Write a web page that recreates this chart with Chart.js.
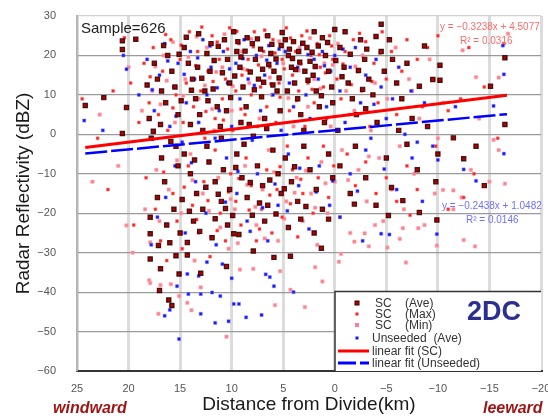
<!DOCTYPE html>
<html><head><meta charset="utf-8">
<script src="https://cdn.jsdelivr.net/npm/chart.js@4"></script>
<style>html,body{margin:0;padding:0;background:#fff;}#wrap{width:548px;height:418px;}</style>
</head><body><div id="wrap"><canvas id="c" width="548" height="418"></canvas></div>
<script>
// ---- data (x = distance km, y = dBZ) ----
const scAve = [
[24.2,7.3],[22.4,9.3],[20.6,23.7],[19.3,24.1],[20.6,21.5],[20.2,6.8],[20.6,0.2],
[17.5,18],[17.2,14],[16.8,11],[16.4,8],[18,4],[17.8,-1],[16.2,20],[15.8,16],[15.5,12],[15.2,5],[16.9,2.5],[15.4,-3],[17.6,0.8],[18.2,12.5],
[14.6,22],[14.2,18],[13.8,14],[13.5,9],[13.1,5],[12.8,1],[12.4,20.5],[12.1,16],[11.8,11.5],[11.4,7],[11.1,2],[10.7,24],[10.4,19],[10.2,13],[14.9,8.5],[13.3,17],[12,23],[11,-1],[10.5,6],[14,2.5],[12.6,11],
[9.8,26],[9.5,21],[9.2,17],[8.9,12],[8.6,7],[8.3,2.5],[8,23],[7.7,19],[7.4,14],[7.1,9.5],[6.8,4],[6.5,25],[6.2,20.5],[5.9,16],[5.6,11],[5.3,6],[9.1,3],[7.9,-0.5],[6.6,1.5],[5.2,22.5],[8.5,24.5],[7,16.5],[6,12.5],
[4.8,24],[4.5,20],[4.2,17],[3.9,13],[3.6,9],[3.3,5],[3,1],[2.7,22],[2.4,18.5],[2.1,15],[1.8,11],[1.5,7],[1.2,24.5],[0.9,20],[0.6,16],[0.3,12],[4,23.5],[3.5,21],[2,26],[1,3],[0.2,8],[4.6,11],[2.9,16],[0,26.6],
[-0.5,22],[-0.9,17],[-1.3,13],[-1.7,9],[-2.1,5],[-2.5,24],[-2.9,19],[-3.3,14],[-3.7,10],[-4.1,3],[-4.5,21],[-4.8,16],[-1,26],[-3,6.5],[-0.3,1],[-4.5,27.9],
[-5.3,24],[-5.6,19],[-6,13],[-6.5,9],[-7,18],[-7.5,4],[-8.2,12.2],[-8.7,22.4],[-9,2],[-9.5,13.9],[-10.2,17.5],[-10.2,13.7],[-6.2,1],
[-11.5,-0.9],[-13.7,-3],[-12.5,-6.2],[-15.1,12.2],[-16.5,19.4],[-16.5,2.5],[-14.5,-13],
[16.6,22.5],[15.1,20.3],[14.4,24.6],[13.9,11.2],[13.2,25.5],[12.9,14.2],[12.3,8.5],[11.7,18.7],[11.3,22.3],[10.9,15.6],[10.1,9.3],[9.7,14.8],[9.4,23.5],[9.1,19.6],[8.7,21.1],[8.2,15.8],[7.8,11.3],[7.5,24.2],[7.2,21.6],[6.9,13.2],[6.4,17.7],[6.1,22.8],[5.7,19.1],[5.4,14.3],[5.1,25.8],[4.4,21.6],[4.1,19.2],[3.8,16.4],[3.4,18.3],[3.1,23.1],[2.6,13.7],[2.2,20.8],[1.9,17.2],[1.6,22.4],[1.3,9.8],[0.7,23.3],[-0.1,18.7],[-0.7,14.6],[-1.5,20.3],[-2.3,16.2],[-3.1,21.6],[-4,24.8],[-2.7,11.4],
[17.9,-21],[17.9,-25.2],[17.1,-28.2],[17.9,-31.6],[16.9,-34.1],[17,-39.6],[15.8,-43.4],[16.1,-42],[15.2,-8],[16.5,-12],[17.2,-16],[15.6,-19],[16.8,-6],[15,-25],[16.3,-23],
[14.3,-27.4],[13,-35.2],[15.1,-35.4],[14.3,-30.6],[11.6,-21.4],[14.6,-5],[14,-10],[13.4,-15],[12.8,-19],[12.2,-7],[11.6,-12],[11,-17],[10.4,-23],[13.7,-22],[12.4,-3],[10.8,-9],[10.2,-14],[14.8,-16.5],
[9.8,-25.2],[9.3,-25.4],[10.5,-33.5],[7.9,-29.6],[5.9,-31.2],[4.3,-30.9],[4.5,-23.6],[9.5,-5],[9,-11],[8.5,-16],[8,-20.5],[7.5,-8],[7,-13],[6.5,-18],[6,-4],[5.5,-10],[5.2,-15],[8.8,-2.5],[6.8,-22],
[4.8,-6],[4.2,-12],[3.6,-17],[3,-3],[2.4,-9],[1.8,-14],[1.2,-19],[0.6,-5],[0.2,-11],[3.3,-21.5],[2,-25],[1.3,-28.9],[0.6,-21.5],
[16,-27.5],[15.4,-30.8],[14.1,-19.5],[13.1,-24.6],[12.5,-13.4],[11.9,-26.2],[11.3,-15.2],[10.6,-18.8],[9.9,-20.6],[9.6,-8.4],[8.2,-12.2],[7.3,-17.4],[6.3,-11.6],[5.7,-20.2],[4.9,-13.8],[3.9,-8.2],[2.8,-18.3],[13.6,-6.5],[15.9,-1.8],
[-0.5,-8],[-1.5,-15],[-2,-3],[-3,-11],[-4,-18],[-5,-6],[-5.5,-13.5],[-7,-2.5],[-8,-9],[-9.8,-12],[-10,-5],[-1.9,-17.7],[-5.2,-20.6],[-8.2,-19.8],[-6.6,-16.8],[-9.9,-21.7]
];
const scMax = [
[24.5,9],[23,-1],[21.5,11],[20.4,24.5],[19.8,13],[19,3],[18.5,18],[18,8],[17.6,22],[17.1,5],[16.7,16],[16.2,1],[15.9,24],[15.4,10],[15,19],[14.7,3],[14.4,13],[14.1,26],[13.7,7],[13.3,21],[13,11],[12.6,-1],[12.3,16],[11.9,25],[11.6,4],[11.2,19],[10.9,9],[10.6,14],[10.2,27],[9.9,1],
[9.6,11],[9.3,23],[9,15],[8.7,5],[8.4,19],[8.1,10],[7.8,26],[7.5,2],[7.2,12],[6.9,21],[6.6,7],[6.3,17],[6,24],[5.7,3],[5.4,13],[5.1,19],[4.7,27],[4.4,6],[4.1,15],[3.8,21],[3.5,11],[3.2,25],[2.9,2],[2.6,13],[2.3,20],[2,8],[1.7,23],[1.4,17],[1.1,12],[0.8,4],[0.5,25],[0.2,19],
[-0.2,14],[-0.6,9],[-1,21],[-1.4,5],[-1.8,24],[-2.2,16],[-2.6,11],[-3,23.5],[-3.4,2],[-3.8,18],[-4.2,8],[-4.6,26],[-5,14],[-5.5,21],[-6,5],[-6.5,16],[-7,24],[-7.5,11],[-8,19],[-8.5,7],[-9,22],[-9.6,14],[-10,25],[-11,6],[-12.2,9],[-13,22],[-14.5,12],[-15.8,-1],[-16.4,23],
[17.9,14.6],[16.4,25.3],[15.7,6.7],[14.9,22.6],[13.5,17.4],[12.9,27.2],[12.5,5.8],[11.8,13.4],[11.4,23.4],[10.8,3.6],[10.4,21.6],[9.5,26.1],[9.1,6.4],[8.5,16.3],[7.9,22.2],[7.4,17.6],[6.8,26.4],[6.2,12.8],[5.8,20.6],[5.3,9.4],[4.9,16.6],[4.3,24.4],[3.7,8.6],[3.3,17.8],[2.7,26.2],[2.2,11.4],[1.5,20.2],[0.9,15.6],[0.3,22.4],[-0.8,17.8],[-1.6,12.6],[-2.4,25.6],[-3.6,13.4],[-4.4,20.6],
[22,-14],[19.5,-23],[18.3,-11],[17.4,-19],[16.9,-27],[16.3,-32],[15.7,-15],[15.3,-22],[14.8,-29],[14.2,-8],[13.8,-18],[13.2,-25],[12.7,-12],[12.1,-31],[11.6,-4],[11.1,-20],[10.6,-27],[10.1,-10],[9.6,-17],[9.1,-23],[8.6,-6],[8.1,-13],[7.6,-27],[7.1,-19],[6.6,-9],[6.1,-25],[5.6,-14],[5.1,-21],
[16.6,-9.6],[14.6,-13.4],[13.4,-21.6],[12.3,-16.8],[11.4,-24.4],[10.3,-14.6],[9.3,-11.2],[8.3,-19.2],[7.3,-24],[6.3,-15.4],[5.3,-8.2],[4.3,-17.6],[3.3,-11.4],
[4.6,-3],[4.1,-9],[3.6,-26],[3.1,-15],[2.6,-6],[2.1,-20],[1.6,-11],[1.1,-3],[0.6,-16],[0.1,-8],[-0.5,-21],[-1.2,-5],[-2,-13],[-3,-7],[-4,-15],[-5,-11],[-6,-17],[-7,-8],[-8,-14],[-9.8,-3],[-11,-19],[-12.5,-16],[-13.5,-10],[-7.3,-20.5]
];
const scMin = [
[23.5,-12],[22.8,5],[21,-8],[20,17],[19.6,-30],[18.7,6],[18.4,-19],[18,-37],[17.7,11],[17.3,-9],[17,-22],[16.6,20],[16.1,-14],[15.9,-38],[15.5,3],[15.1,-41],[14.9,-20],[14.5,14],[14.3,-42.7],[14,-5],[13.6,-32],[13.2,9],[13,-38.8],[12.8,-15],[12.4,22],[12,-26],[11.7,1],[11.3,-11],[10.9,17],[10.5,-51.3],[10.3,-29],[10,6],
[9.7,-19],[9.2,-34.3],[9,21],[8.7,-8],[8.3,13],[7.9,-34.1],[7.6,-23],[7.3,4],[7,-14],[6.7,25],[6.4,-4],[6.1,10],[5.8,-43.3],[5.5,-27],[5.3,-34.7],[5,18],[4.7,-17],[4.3,-39.4],[4,2],[3.7,-11],[3.4,22],[3.1,-22],[2.9,-43.8],[2.6,7],[2.3,-15],[2,14],[1.7,-28],[1.3,-7],[1,18],[0.7,-20],[0.4,2],[0,-12],
[17.4,17.2],[16.9,7.6],[16.3,13.6],[15.7,23.4],[15.3,-6.6],[14.7,9.8],[14.2,19.6],[13.8,-11.6],[13.4,24.8],[12.6,12.4],[12.2,-19.4],[11.9,6.4],[11.5,15.8],[11.1,-23.6],[10.7,25.4],[10.1,-16.4],[9.9,12.2],[9.4,-27.6],[8.9,16.6],[8.5,-12.8],[8.1,24.2],[7.7,-18.4],[7.1,19.8],[6.8,-26.4],[6.3,14.4],[5.9,-9.6],[5.4,23.6],[4.9,-21.4],[4.5,9.2],[3.9,-14.8],[3.5,16.2],[2.8,-9.2],[2.4,24.4],[1.9,-18.6],[1.4,11.6],[0.9,-12.4],[0.2,17.6],[-1.3,-11.6],[-2,17.2],[-3.3,-5.6],
[-0.3,23],[-0.7,-4],[-1.1,11],[-1.5,-25],[-1.9,6],[-2.3,-9],[-2.7,20],[-3.1,-17],[-3.5,1],[-3.9,13],[-4.3,-6],[-4.7,-22],[-5.1,9],[-5.5,-14],[-5.9,22],[-6.3,-3],[-6.7,-19],[-7.2,14],[-7.7,-10],[-8.2,4],[-8.7,-23],[-9.2,19],[-9.7,-15],[-10,-1],[-10.5,8],[-11.5,-19],[-12.3,-16],[-13.2,-9],[-14,4],[-15,-12],[-16.5,-12.5],[-16.8,25.5],
[-6.9,-32.5],[1.2,-37.3],[1.9,-33.7],[-0.6,-30.3],[-0.4,-32.3],[-12.5,-26.8],[-13.6,-28.4],[-6.6,-23.8],[-8.1,-23.8],[-3.9,-23],[-5.1,-28.7],[-3.3,-28.4],[-1.9,-27.2],[-9.9,-28.2],[-6.3,-26.5],[-2.9,-25.1],
[-12.4,21.3],[-13.7,14.5],[-15.9,14.4],[-15.4,-1.4],[-15.9,-4],[-11.5,-14.2],[-10.5,-14.1],[20.2,-23.1],[17.9,-27.4],[17.1,-45.5],[13.9,-44.6],[17.9,-37.7],[16.9,-38.2]
];
const unseeded = [
[24.3,3.5],[22.5,1],[20.5,20],[20.2,16.5],[19,10],[18.2,19],[17.5,6],[17,15],[16.5,23],[16,2],[15.6,12],[15.2,18],[14.8,-2],[14.4,8],[14,21],[13.6,14],[13.2,3],[12.8,24],[12.4,10],[12,17],[11.6,-1],[11.2,6],[10.8,21],[10.4,13],[10,2],[9.6,18],[9.2,9],[8.8,24],[8.4,14],[8,-1.5],
[7.6,20],[7.2,6],[6.8,15],[6.4,22.5],[6,10],[5.6,18],[5.2,1],[4.8,21],[4.4,13],[4,7],[3.6,17],[3.2,23],[2.8,10],[2.4,4],[2,19],[1.6,14],[1.2,21],[0.8,7],[0.4,16],[0,20],[-0.5,11],[-1,3],[-1.5,17],[-2,22],[-2.5,8],[-3,15],[-3.5,-1],[-4,19],[-4.5,12],[-5,4],
[-5.6,9],[-6.2,17],[-6.8,0],[-7.4,11],[-8,-2],[-8.7,8],[-9.5,-3],[-10,-6.5],[-11.7,7],[-12.5,-8.9],[-13.7,-11.8],[-15.4,7.2],[-16.4,15.2],[-16.4,-4.9],[-16.3,22.5],
[17.7,11.3],[16.2,18.6],[15.4,4.6],[14.6,15.2],[13.9,-7.2],[13.3,19.4],[12.6,-13.6],[12.1,22.4],[11.4,11.8],[10.6,-17.2],[10.2,16.6],[9.4,-9.4],[8.9,19.2],[8.2,-24.6],[7.8,12.4],[7,-18.6],[6.6,18.8],[5.8,-12.6],[5.4,21.6],[4.6,-19.4],[4.2,16.8],[3.4,-8.6],[2.6,20.2],[1.8,-14.6],[1,17.4],[0.2,-11.8],[-0.8,21.6],[-2.2,-14.4],[-3.8,7.6],[-4.8,-8.8],
[16.5,-46],[16,-44.5],[15.1,-51.9],[13,-45.5],[11.6,-47.8],[10.3,-47.4],[8.6,-46.4],[7.1,-45.8],[15.3,-38.5],[14.2,-40.5],[13,-40.5],[11.9,-40.1],[11.1,-41],[9.8,-43],[9.3,-43],[5.9,-38.5],[4,-40],[6.7,-35.5],[6.3,-36.2],[10,-36.5],[14.3,-35.4],[13.2,-35.9],[10.9,-32.9],[12.4,-32.4],
[17.8,-28],[17.2,-21],[16.4,-16],[15.5,-8],[14.5,-25],[13.5,-12],[12.5,-20],[11.5,-28],[10.5,-6],[9.5,-15],[8.5,-22],[7.5,-10],[6.5,-27],[5.5,-18],[4.5,-5],[3.5,-13],[2.5,-24],[1.5,-8],[0.5,-18],[-0.5,-21],[-1.5,-10],[-2.7,-27],[-4.5,-25.2],[-5.3,-25.4],[-6,-14],[-7.5,-6],[-9.9,-25.3],[-8.5,-17],[-3,-4]
];
// linear fits as printed on the chart
const fitSC = {slope:-0.3238, intercept:4.5077};
const fitUn = {slope:-0.2438, intercept:1.0482};
const fitXRange = [24.2, -16.7];
const xTickValues = [25,20,15,10,5,0,-5,-10,-15,-20];
const yTickValues = [30,20,10,0,-10,-20,-30,-40,-50,-60];
const legendLabels = ['SC    (Ave)','SC    (Max)','SC    (Min)','Unseeded  (Ave)','linear fit (SC)','linear fit (Unseeded)'];

const toXY = a => a.map(p => ({x:p[0], y:p[1]}));
const fitPts = f => fitXRange.map(x => ({x, y: f.slope*x + f.intercept}));
const fmt = v => v < 0 ? '\u2212' + Math.abs(v) : String(v);
const FONT = "'Liberation Sans', Arial, sans-serif";

const overlay = {
  id:'overlay',
  afterDraw(chart){
    const ctx = chart.ctx;
    ctx.save();
    ctx.font = '15px ' + FONT; ctx.fillStyle = '#222'; ctx.textBaseline = 'middle'; ctx.textAlign='left';
    ctx.fillText('Sample=626', 81, 29);
    ctx.font = '10px ' + FONT; ctx.fillStyle = '#ff6a6a';
    ctx.fillText('y = \u22120.3238x + 4.5077', 440, 27);
    ctx.fillText('R\u00b2 = 0.0316', 460, 41);
    ctx.fillStyle = '#6f6fff';
    ctx.fillText('y = \u22120.2438x + 1.0482', 442, 206);
    ctx.fillText('R\u00b2 = 0.0146', 466, 220);
    ctx.fillStyle = '#fff'; ctx.fillRect(335, 291, 206, 80);
    ctx.strokeStyle = '#333'; ctx.lineWidth = 1.5;
    ctx.beginPath(); ctx.moveTo(335, 371); ctx.lineTo(335, 291.5); ctx.lineTo(541, 291.5); ctx.stroke();
    const rows = [303, 314, 325, 338, 351, 363];
    const ds = chart.data.datasets;
    for (let i = 0; i < 4; i++) {
      const d = ds[i];
      const s = d.legendSize;
      ctx.fillStyle = d.backgroundColor;
      ctx.fillRect(357 - s/2, rows[i] - s/2, s, s);
      if (i === 0) { ctx.strokeStyle = '#3a0000'; ctx.lineWidth = 1; ctx.strokeRect(357 - s/2, rows[i] - s/2, s, s); }
    }
    ctx.lineWidth = 3; ctx.strokeStyle = '#ff0000'; ctx.setLineDash([]);
    ctx.beginPath(); ctx.moveTo(338, rows[4]); ctx.lineTo(369, rows[4]); ctx.stroke();
    ctx.strokeStyle = '#0000ff'; ctx.setLineDash([18,4]);
    ctx.beginPath(); ctx.moveTo(338, rows[5]); ctx.lineTo(369, rows[5]); ctx.stroke();
    ctx.setLineDash([]);
    ctx.font = '12px ' + FONT; ctx.fillStyle = '#333';
    legendLabels.forEach((t, i) => ctx.fillText(t, i < 3 ? 375 : 372, rows[i] + 0.5));
    ctx.font = 'bold 27px ' + FONT; ctx.fillStyle = '#2b2f8f';
    ctx.fillText('2DC', 467, 313);
    ctx.font = 'italic bold 16px ' + FONT; ctx.fillStyle = '#9e1414';
    ctx.fillText('windward', 53, 409);
    ctx.fillText('leeward', 483, 409);
    ctx.restore();
  }
};

new Chart(document.getElementById('c'), {
  type: 'scatter',
  data: {
    datasets: [
      {label:'SC (Ave)', data: toXY(scAve), backgroundColor:'#b00000', borderColor:'rgba(45,0,0,0.85)', borderWidth:1.2, pointStyle:'rect', pointRadius:3, legendSize:4, order:2},
      {label:'SC (Max)', data: toXY(scMax), backgroundColor:'#ff2020', borderColor:'rgba(255,120,120,0.6)', borderWidth:0.8, pointStyle:'rect', pointRadius:2.1, legendSize:3, order:4},
      {label:'SC (Min)', data: toXY(scMin), backgroundColor:'#ff7f90', borderColor:'rgba(255,170,180,0.7)', borderWidth:0.8, pointStyle:'rect', pointRadius:2.4, legendSize:4, order:5},
      {label:'Unseeded (Ave)', data: toXY(unseeded), backgroundColor:'#1515ff', borderColor:'rgba(120,120,255,0.6)', borderWidth:0.8, pointStyle:'rect', pointRadius:2.2, legendSize:3, order:3},
      {type:'line', label:'linear fit (SC)', data: fitPts(fitSC), borderColor:'#ff0000', borderWidth:3, pointRadius:0, fill:false, order:0},
      {type:'line', label:'linear fit (Unseeded)', data: fitPts(fitUn), borderColor:'#0000ff', borderWidth:2.5, borderDash:[22,4], pointRadius:0, fill:false, order:1}
    ]
  },
  options: {
    responsive:false, animation:false, devicePixelRatio:1,
    layout:{padding:{left:0,right:7,top:16,bottom:0}},
    plugins:{legend:{display:false}, tooltip:{enabled:false}},
    scales:{
      x:{type:'linear', reverse:true, min:-20, max:25,
        afterBuildTicks: s => { s.ticks = xTickValues.map(v => ({value:v})); },
        afterFit: s => { s.height = 47; s.paddingLeft = 0; s.paddingRight = 0; },
        ticks:{callback: v => fmt(v), font:{family:FONT, size:11}, color:'#555', padding:11, maxRotation:0, autoSkip:false},
        grid:{color:'#dcdcdc', lineWidth:3, drawTicks:false},
        border:{color:'#333', width:2},
        title:{display:true, text:'Distance from Divide(km)', font:{family:FONT, size:19}, color:'#1a1a1a', padding:{top:0, bottom:2}}
      },
      y:{min:-60, max:30,
        afterBuildTicks: s => { s.ticks = yTickValues.map(v => ({value:v})); },
        afterFit: s => { s.width = 77; s.paddingTop = 0; s.paddingBottom = 0; },
        ticks:{callback: v => fmt(v), font:{family:FONT, size:11}, color:'#555', padding:21},
        grid:{color: c => (c.tick && c.tick.value === 30) ? '#d0d0d0' : '#9a9a9a', lineWidth:1.2, drawTicks:false},
        border:{color:'#b5b5b5', width:2},
        title:{display:true, text:'Radar Reflectivity (dBZ)', font:{family:FONT, size:19}, color:'#1a1a1a', padding:{top:12, bottom:0}}
      }
    }
  },
  plugins:[overlay]
});
</script></body></html>
